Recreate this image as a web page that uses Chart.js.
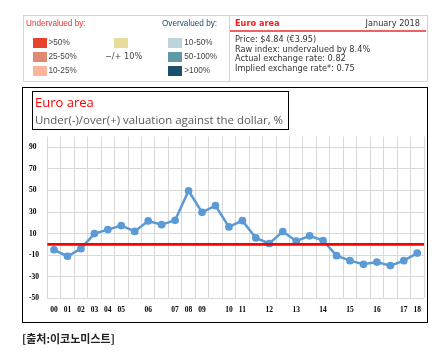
<!DOCTYPE html>
<html>
<head>
<meta charset="utf-8">
<script src="https://cdn.jsdelivr.net/npm/chart.js@4"></script>
<style>
  body { margin: 0; background: #fff; }
  #wrap { position: relative; width: 436px; height: 353px; overflow: hidden; }
  #chart { position: absolute; left: 0; top: 0; }
  .abs { position: absolute; white-space: nowrap; line-height: 10px; }
  .sw { position: absolute; width: 14px; height: 9.5px; }
  .lab { font-family: "Liberation Sans", sans-serif; font-size: 8.2px; color: #444; }
  .info { font-family: "DejaVu Sans", sans-serif; font-size: 8.2px; color: #333; }
</style>
</head>
<body>
<div id="wrap">
  <canvas id="chart" width="436" height="353"></canvas>

  <!-- legend / info panel -->
  <div class="abs" style="left:22.5px;top:15px;width:403px;height:65px;border:1px solid #d4d4d4;"></div>
  <div class="abs" style="left:229px;top:15px;width:1px;height:66px;background:#d4d4d4;"></div>
  <div class="abs" style="left:230px;top:30px;width:196px;height:1.5px;background:#f06262;"></div>

  <div class="abs lab" style="left:26px;top:19px;color:#f0302a;">Undervalued by:</div>
  <div class="abs lab" style="left:162px;top:19px;color:#1e4d6b;">Overvalued by:</div>

  <div class="sw" style="left:33px;top:38px;background:#e8412c;"></div>
  <div class="sw" style="left:33px;top:52px;background:#e08a74;"></div>
  <div class="sw" style="left:33px;top:66px;background:#fbb59c;"></div>
  <div class="abs lab" style="left:48.5px;top:37.7px;">&gt;50%</div>
  <div class="abs lab" style="left:48.5px;top:51.7px;">25-50%</div>
  <div class="abs lab" style="left:48.5px;top:66px;">10-25%</div>

  <div class="sw" style="left:114px;top:38px;background:#e8dc9a;"></div>
  <div class="abs info" style="left:105px;top:50.7px;color:#444;">&minus;/+ 10%</div>

  <div class="sw" style="left:168.3px;top:38px;background:#bfd3dc;"></div>
  <div class="sw" style="left:168.3px;top:52px;background:#5f98a6;"></div>
  <div class="sw" style="left:168.3px;top:66px;background:#1b4f6b;"></div>
  <div class="abs lab" style="left:184.3px;top:37.7px;">10-50%</div>
  <div class="abs lab" style="left:184.3px;top:51.7px;">50-100%</div>
  <div class="abs lab" style="left:184.3px;top:66px;">&gt;100%</div>

  <div class="abs info" style="left:235px;top:18px;color:#ff1a1a;font-weight:bold;">Euro area</div>
  <div class="abs info" style="right:16px;top:18px;">January 2018</div>
  <div class="abs info" style="left:235px;top:34px;">Price: $4.84 (€3.95)</div>
  <div class="abs info" style="left:235px;top:43.7px;">Raw index: undervalued by 8.4%</div>
  <div class="abs info" style="left:235px;top:53.3px;">Actual exchange rate: 0.82</div>
  <div class="abs info" style="left:235px;top:63px;">Implied exchange rate*: 0.75</div>

  <!-- chart frame and title box -->
  <div class="abs" style="left:22px;top:87px;width:404px;height:234px;border:1px solid #000;"></div>
  <div class="abs" style="left:32px;top:91px;width:255px;height:36.5px;border:1px solid #000;"></div>
  <div class="abs" style="left:35px;top:94px;line-height:17px;font-family:'Open Sans',sans-serif;font-size:13px;color:#ff0000;">Euro area</div>
  <div class="abs" style="left:35px;top:111.5px;line-height:16px;font-family:'Open Sans',sans-serif;font-size:11.45px;color:#595959;">Under(-)/over(+) valuation against the dollar, %</div>

  <div class="abs" style="left:22px;top:331px;line-height:14px;font-family:'Noto Sans CJK KR',sans-serif;font-size:11px;font-weight:bold;color:#222;">[출처:이코노미스트]</div>
</div>

<script>
// Big Mac index, euro area: under(-)/over(+) valuation vs dollar, %
const labels = ['00', '01', '02', '03', '04', '05', '', '06', '', '07', '08', '09', '', '10',
                '11', '', '12', '', '13', '', '14', '', '15', '', '16', '', '17', '18'];
const valuation = [-5, -11, -4, 10, 13.7, 17.4, 12, 21.7, 18.3, 22.3, 49.7, 29.7, 35.9, 16.2,
                   22, 6, 0.8, 11.9, 3, 7.9, 3.6, -10.5, -15.1, -18.5, -16.4, -19.7, -15.1, -8.1];
const parityLevel = 0;

const yMin = -50;
const yMax = 100;
const yStep = 20;

const parityLine = {
    id: 'parityLine',
    afterDatasetsDraw(chart) {
        const ctx = chart.ctx;
        const area = chart.chartArea;
        const y = chart.scales.y.getPixelForValue(parityLevel);
        ctx.save();
        ctx.strokeStyle = '#ff0000';
        ctx.lineWidth = 2.6;
        ctx.beginPath();
        ctx.moveTo(area.left, y);
        ctx.lineTo(area.right, y);
        ctx.stroke();
        ctx.restore();
    }
};

const data = {
    labels: labels,
    datasets: [{
        label: 'Euro area',
        data: valuation,
        borderColor: '#5b9bd5',
        backgroundColor: '#5b9bd5',
        borderWidth: 2.5,
        pointRadius: 2.6,
        pointHoverRadius: 2.6,
        tension: 0
    }]
};

const config = {
    type: 'line',
    data: data,
    plugins: [parityLine],
    options: {
        responsive: false,
        animation: false,
        devicePixelRatio: 1,
        layout: {
            padding: { left: 29, right: 12, top: 136.5, bottom: 0 }
        },
        plugins: {
            legend: { display: false },
            tooltip: { enabled: false }
        },
        scales: {
            x: {
                offset: true,
                grid: {
                    offset: true,
                    color: '#d9d9d9',
                    lineWidth: 1,
                    drawTicks: false
                },
                border: { display: false },
                ticks: {
                    autoSkip: false,
                    maxRotation: 0,
                    padding: 7,
                    color: '#000',
                    font: { family: 'Liberation Serif', size: 7.5, weight: 'bold' }
                },
                afterFit(scale) {
                    scale.height = 54.7;
                }
            },
            y: {
                bounds: 'data',
                min: yMin,
                max: yMax,
                grid: {
                    color: '#d9d9d9',
                    lineWidth: 1,
                    drawTicks: false
                },
                border: { display: false },
                ticks: {
                    stepSize: yStep,
                    crossAlign: 'far',
                    padding: 0,
                    color: '#000',
                    font: { family: 'Liberation Serif', size: 7.5, weight: 'bold' }
                },
                // top of the plot is 100 but the last labelled line is 90
                afterBuildTicks(scale) {
                    scale.ticks = scale.ticks.filter(t => t.value < yMax);
                },
                afterFit(scale) {
                    scale.width = 18.3;
                }
            }
        }
    }
};

var euroChart = new Chart(
    document.getElementById('chart'),
    config
);
</script>
</body>
</html>
